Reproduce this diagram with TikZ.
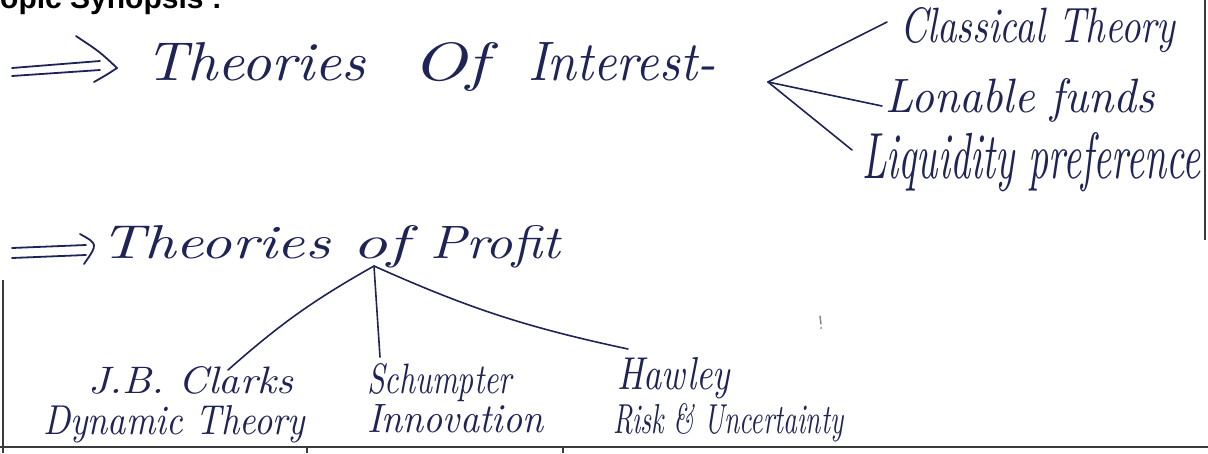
\documentclass[tikz,border=0pt]{standalone}
\usepackage{fontspec}
\setsansfont{Liberation Sans}
\usepackage{graphicx}
\definecolor{ink}{HTML}{1E2455}
\definecolor{rulegray}{HTML}{3A3A3A}
\newcommand{\hwbox}[3]{\resizebox{#1pt}{#2pt}{#3}}
\tikzset{
  hw/.style={text=ink, inner sep=0pt, anchor=base west, font=\itshape},
  branch/.style={draw=ink, line width=1.6pt, line cap=round},
  arrowstroke/.style={draw=ink, line width=1.8pt, line cap=round, line join=round},
  tbl/.style={draw=rulegray, line width=1.5pt},
}
\begin{document}
\begin{tikzpicture}[x=1pt,y=-1pt]
\useasboundingbox (0,0) rectangle (1208,453);

% cut-off heading
\node[anchor=base west, inner sep=0pt, font=\sffamily\bfseries\fontsize{30}{30}\selectfont] (title) at (0,8) {opic Synopsis :};

% ---- Theories of Interest ----
\draw[arrowstroke] (12,68) -- (100,61);
\draw[arrowstroke] (12,76) -- (100,70);
\draw[arrowstroke] (76,36) .. controls (100,52) .. (117,68) .. controls (108,74) .. (94,82);
\node[hw] (interest) at (145,80) {\hwbox{220}{38}{Theories}\hspace{47pt}\hwbox{76}{38}{Of}\hspace{40pt}\hwbox{187}{38}{Interest-}};
\coordinate (v1) at (768,82);
\node[hw] (classical) at (900,42) {\hwbox{275}{35}{Classical Theory}};
\node[hw] (lonable) at (885,112) {\hwbox{270}{34}{Lonable funds}};
\node[hw] (liquidity) at (862,178) {\hwbox{338}{46}{Liquidity preference}};
\draw[branch] (v1) -- ([xshift=-13pt,yshift=20pt]classical.base west);
\draw[branch] (v1) -- ([xshift=-3pt,yshift=6pt]lonable.base west);
\draw[branch] (v1) -- ([xshift=-10pt,yshift=28pt]liquidity.base west);

% ---- Theories of Profit ----
\draw[arrowstroke] (12,248) -- (86,245);
\draw[arrowstroke] (12,258) -- (86,255);
\draw[arrowstroke] (80,234) .. controls (98,244) .. (84,264);
\node[hw] (profit) at (100,258) {\hwbox{230}{33}{Theories}\hspace{22pt}\hwbox{56}{33}{of}\hspace{22pt}\hwbox{130}{33}{Profit}};
\coordinate (v2) at (374,266);

\node[hw] (clarks) at (88,393) {\hwbox{205}{27}{J.B. Clarks}};
\node[hw] (dynamic) at (43,434) {\hwbox{262}{29}{Dynamic Theory}};
\node[hw] (schump) at (367,393) {\hwbox{145}{30}{Schumpter}};
\node[hw] (innov) at (367,432) {\hwbox{176}{28}{Innovation}};
\node[hw] (hawley) at (617,389) {\hwbox{113}{32}{Hawley}};
\node[hw] (risk) at (613,433) {\hwbox{230}{30}{Risk \& Uncertainty}};

\draw[branch] (v2) to[bend right=6] ([xshift=140pt,yshift=23pt]clarks.base west);
\draw[branch] (v2) -- ([xshift=13pt,yshift=36pt]schump.base west);
\draw[branch] (v2) to[bend right=6] ([xshift=11pt,yshift=40pt]hawley.base west);

% stray mark
\draw[gray, line width=1.4pt, line cap=round] (820,316) -- (821,324);
\fill[gray] (821,328) circle (1pt);

% table rules
\draw[tbl] (3,280) -- (3,453);
\draw[tbl] (0,447) -- (1208,447);
\draw[tbl] (307,447) -- (307,453);
\draw[tbl] (563,447) -- (563,453);
\draw[tbl] (1205,0) -- (1205,240);
\end{tikzpicture}
\end{document}
